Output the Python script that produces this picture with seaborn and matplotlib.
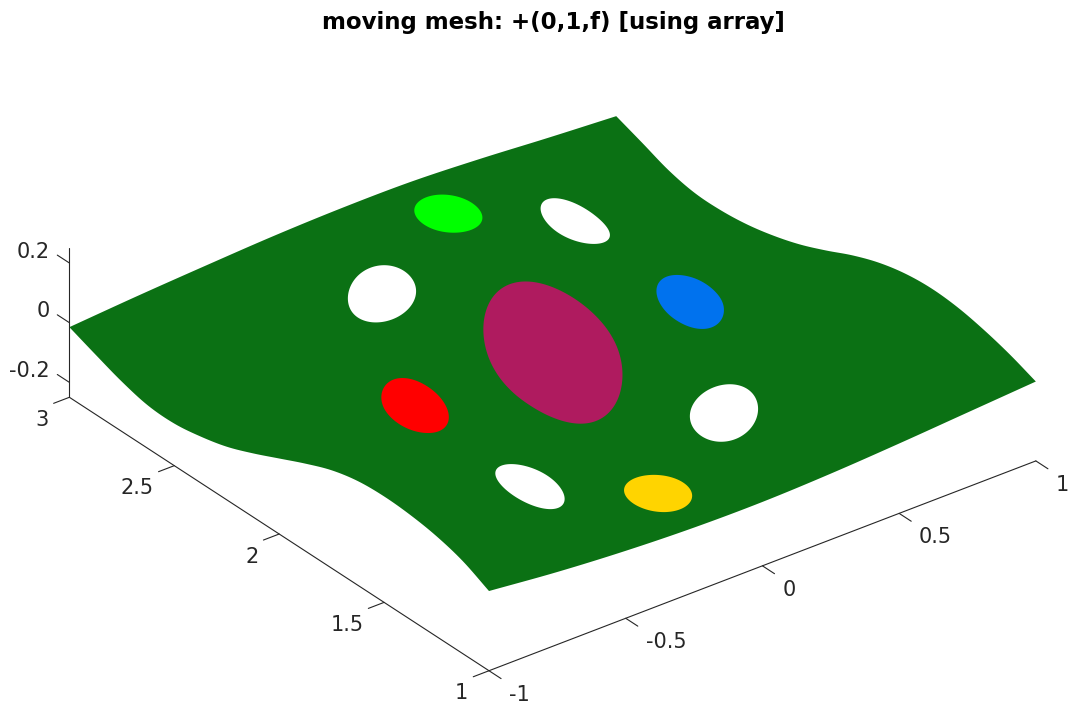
import numpy as np
import matplotlib
matplotlib.use("Agg")
import matplotlib.pyplot as plt
import matplotlib.transforms as mtransforms
import seaborn as sns
from mpl_toolkits.mplot3d.art3d import Poly3DCollection

sns.set_theme(style="white", rc={"font.family": "DejaVu Sans", "text.color": "#262626"})

# surface heights, rows are y, columns are x
x_nodes = [-1, -0.75, -0.5, -0.25, 0, 0.25, 0.5, 0.75, 1]
y_nodes = [1, 1.125, 1.25, 1.375, 1.5, 1.625, 1.75, 1.875, 2,
           2.125, 2.25, 2.375, 2.5, 2.625, 2.75, 2.875, 3]
z_table = [
    [0.017, -0.007, -0.024, -0.034, -0.036, -0.029, -0.016, 0.000, 0.016],
    [0.060, 0.027, 0.006, -0.011, -0.016, -0.009, 0.012, 0.034, 0.050],
    [0.086, 0.052, 0.029, 0.009, 0.003, 0.011, 0.034, 0.058, 0.076],
    [0.100, 0.068, 0.045, 0.025, 0.018, 0.026, 0.049, 0.073, 0.094],
    [0.105, 0.076, 0.052, 0.033, 0.026, 0.035, 0.056, 0.079, 0.100],
    [0.099, 0.074, 0.053, 0.036, 0.029, 0.037, 0.056, 0.076, 0.092],
    [0.078, 0.058, 0.043, 0.030, 0.025, 0.031, 0.045, 0.060, 0.071],
    [0.043, 0.031, 0.023, 0.016, 0.014, 0.017, 0.024, 0.032, 0.038],
    [0.003, 0.002, 0.001, 0.000, 0.000, 0.000, -0.001, -0.002, -0.003],
    [-0.037, -0.029, -0.022, -0.015, -0.013, -0.016, -0.023, -0.030, -0.040],
    [-0.072, -0.054, -0.040, -0.027, -0.022, -0.028, -0.042, -0.056, -0.068],
    [-0.095, -0.070, -0.050, -0.034, -0.027, -0.035, -0.053, -0.072, -0.088],
    [-0.109, -0.077, -0.053, -0.034, -0.027, -0.036, -0.057, -0.080, -0.098],
    [-0.106, -0.072, -0.048, -0.028, -0.020, -0.029, -0.052, -0.077, -0.097],
    [-0.083, -0.051, -0.028, -0.009, -0.003, -0.011, -0.034, -0.057, -0.078],
    [-0.050, -0.021, -0.001, 0.015, 0.020, 0.013, -0.008, -0.028, -0.044],
    [-0.015, 0.002, 0.016, 0.028, 0.034, 0.033, 0.021, 0.004, -0.011],
]

# the patches on the surface: centre, half axes, tilt in degrees, colour
hole_x = [0.008, 0.254, 0.577, 0.507, 0.164, -0.245, -0.567, -0.503, -0.156]
hole_y = [2.009, 2.828, 2.644, 2.005, 1.397, 1.178, 1.369, 2.0, 2.61]
hole_a = [0.48, 0.10, 0.13, 0.225, 0.145, 0.10, 0.13, 0.225, 0.145]
hole_b = [0.185, 0.09, 0.08, 0.085, 0.097, 0.09, 0.08, 0.085, 0.097]
hole_tilt = [63, -17, 89, 66, 42, -17, 89, 66, 42]
hole_color = ["#AF1B5F", "#00FF00", "white", "#0072EE", "white",
              "#FFD400", "white", "#FF0000", "white"]

x_ticks = [-1, -0.5, 0, 0.5, 1]
y_ticks = [1, 1.5, 2, 2.5, 3]
z_ticks = [-0.2, 0, 0.2]
x_tick_labels = ["-1", "-0.5", "0", "0.5", "1"]
y_tick_labels = ["1", "1.5", "2", "2.5", "3"]
z_tick_labels = ["-0.2", "0", "0.2"]

surface_color = "#0B7114"
ink = "#262626"


def refine(values, n=8):
    # Catmull-Rom through the read values along the first axis, keeps every node
    v = np.asarray(values, dtype=float)
    p = np.concatenate([[2 * v[0] - v[1]], v, [2 * v[-1] - v[-2]]])
    out = []
    for k in range(1, len(p) - 2):
        for t in np.arange(n) / n:
            out.append(0.5 * (2 * p[k] + (p[k + 1] - p[k - 1]) * t
                              + (2 * p[k - 1] - 5 * p[k] + 4 * p[k + 1] - p[k + 2]) * t ** 2
                              + (3 * p[k] - p[k - 1] - 3 * p[k + 1] + p[k + 2]) * t ** 3))
    out.append(v[-1])
    return np.array(out)


xn = refine(x_nodes)
yn = refine(y_nodes)
zn = refine(refine(z_table).T).T


def height(px, py):
    # bilinear lookup in the refined table
    i = np.clip(np.searchsorted(xn, px) - 1, 0, len(xn) - 2)
    j = np.clip(np.searchsorted(yn, py) - 1, 0, len(yn) - 2)
    tx = (px - xn[i]) / (xn[i + 1] - xn[i])
    ty = (py - yn[j]) / (yn[j + 1] - yn[j])
    return (zn[j, i] * (1 - tx) * (1 - ty) + zn[j, i + 1] * tx * (1 - ty)
            + zn[j + 1, i] * (1 - tx) * ty + zn[j + 1, i + 1] * tx * ty)


fig = plt.figure(figsize=(10.78, 7.13), dpi=100)
ax = fig.add_axes([(539.1 - 500) / 1078, (345 - 500) / 713, 1000 / 1078, 1000 / 713],
                  projection="3d", proj_type="ortho")
ax.patch.set_visible(False)
ax.computed_zorder = False
ax.view_init(elev=30, azim=-127.5)
ax.set_box_aspect((2, 2, 0.5), zoom=0.961)
ax.set_xlim(-1, 1)
ax.set_ylim(1, 3)
ax.set_zlim(-0.25, 0.25)

# one flat colour, so the outline of the surface is all that shows
rim = np.vstack([
    np.column_stack([xn, np.full_like(xn, yn[0]), zn[0]]),
    np.column_stack([np.full_like(yn, xn[-1]), yn, zn[:, -1]]),
    np.column_stack([xn[::-1], np.full_like(xn, yn[-1]), zn[-1][::-1]]),
    np.column_stack([np.full_like(yn, xn[0]), yn[::-1], zn[:, 0][::-1]]),
])
ax.add_collection3d(Poly3DCollection([rim], facecolors=surface_color, edgecolors="none", zorder=2),
                    autolim=False)

angle = np.linspace(0, 2 * np.pi, 181)
for cx, cy, a, b, tilt, col in zip(hole_x, hole_y, hole_a, hole_b, hole_tilt, hole_color):
    th = np.radians(tilt)
    ex = cx + a * np.cos(angle) * np.cos(th) - b * np.sin(angle) * np.sin(th)
    ey = cy + a * np.cos(angle) * np.sin(th) + b * np.sin(angle) * np.cos(th)
    ez = height(ex, ey)
    patch = Poly3DCollection([list(zip(ex, ey, ez))], facecolors=col, edgecolors="none", zorder=3)
    ax.add_collection3d(patch, autolim=False)

ax.grid(False)
# z ticks run along y in the reference
ax.zaxis._get_tickdir = lambda pos: 1
for axis, ticks, labels, inward, outward in [(ax.xaxis, x_ticks, x_tick_labels, 0.36, 0),
                                             (ax.yaxis, y_ticks, y_tick_labels, 0.36, 0),
                                             (ax.zaxis, z_ticks, z_tick_labels, 0, 0.36)]:
    axis.pane.set_visible(False)
    axis.line.set_color(ink)
    axis.line.set_linewidth(0.8)
    axis.set_ticks(ticks)
    axis.set_ticklabels(labels)
    axis._axinfo["tick"]["inward_factor"] = inward
    axis._axinfo["tick"]["outward_factor"] = outward
    axis._axinfo["tick"]["linewidth"] = {True: 0.8, False: 0.5}
    axis._axinfo["tick"]["color"] = ink
ax.tick_params(labelsize=15, colors=ink, pad=0)

# tick labels sit like the reference: x left aligned, y and z right aligned.
# Axis3D puts transData back on every label, so the shift has to be pinned
for axis, ha, dx, dy in [(ax.xaxis, "left", 11, -15),
                         (ax.yaxis, "right", -9, -15),
                         (ax.zaxis, "right", 1, 10)]:
    shift = mtransforms.ScaledTranslation(dx / 100, dy / 100, fig.dpi_scale_trans)
    for label in axis.get_ticklabels():
        label.set_ha(ha)
        label.set_va("center")
        label.set_transform(ax.transData + shift)
        label.set_transform = lambda t: None

fig.text(553 / 1078, 1 - 22 / 713, "moving mesh: +(0,1,f) [using array]",
         ha="center", va="center", fontsize=16.5, fontweight="bold", color="black")

fig.savefig("out.png", dpi=100)
